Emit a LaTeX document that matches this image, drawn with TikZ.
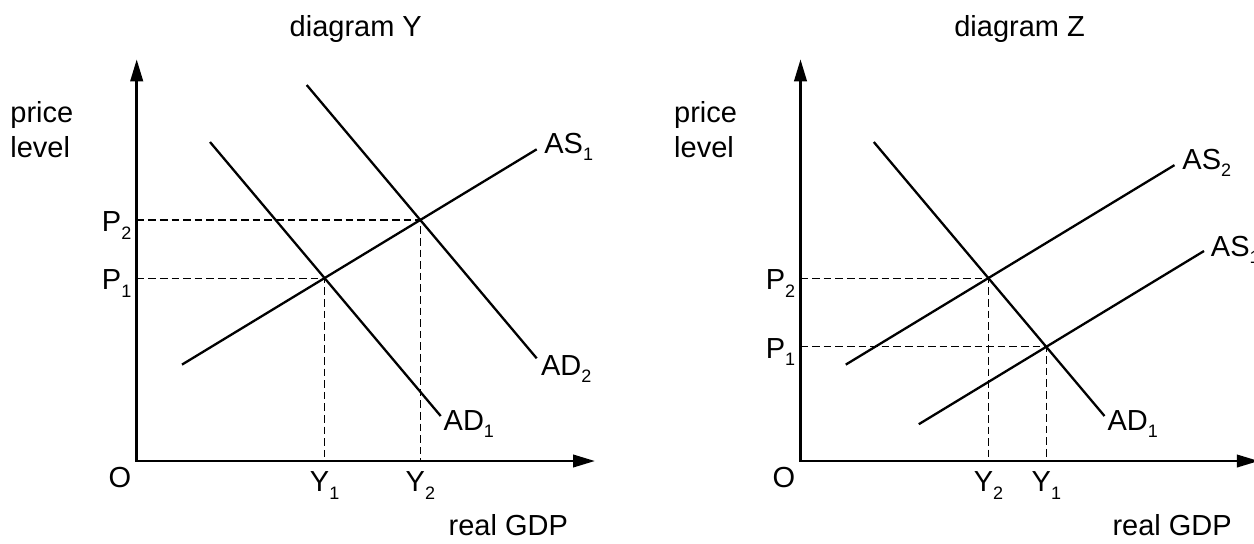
\documentclass[tikz,border=0pt]{standalone}
\usepackage{fontspec}
\setmainfont{Liberation Sans}
\usetikzlibrary{positioning,arrows.meta}
\newcommand\lowsub[1]{\raisebox{-3.7pt}{\fontsize{9pt}{9pt}\selectfont #1}}
\tikzset{
  lbl/.style={inner sep=0pt, font=\fontsize{14.5pt}{17.3pt}\selectfont},
  plbl/.style={lbl, anchor=base east, xshift=-2.5pt, yshift=-5.85pt},
  axis/.style={line width=1.35pt, {Triangle[length=11pt, width=6.2pt]}-{Triangle[length=11pt, width=6.2pt]}},
  curve/.style={line width=1.15pt},
  guide/.style={line width=0.55pt, dash pattern=on 3.8pt off 2pt},
}
\begin{document}
\begin{tikzpicture}[x=0.5pt, y=-0.5pt]
        \useasboundingbox (0,0) rectangle (1254,543);
        \clip (0,0) rectangle (1254,543);
        \coordinate (yb) at (0,491.7);
        \coordinate (oY) at (136.7,461);
        \coordinate (ytY) at (136.7,59.3);
        \coordinate (xtY) at (595,461);
        \coordinate (as1a) at (182,364.6);
        \coordinate (as1b) at (536.7,149.3);
        \coordinate (ad1a) at (210,142);
        \coordinate (ad1b) at (440.7,416);
        \coordinate (ad2a) at (306.7,85);
        \coordinate (ad2b) at (536.7,358.3);
        \coordinate (e1Y) at (intersection of as1a--as1b and ad1a--ad1b);
        \coordinate (e2Y) at (intersection of as1a--as1b and ad2a--ad2b);
        \node[lbl, anchor=base] (ttlY) at (355.8,36.7) {diagram Y};
        \node[lbl, anchor=west, align=left] (plY) at (10,129.6) {price\\level};
        \node[lbl, anchor=base] (o1) at (120,487.6) {O};
        \node[plbl] (p1Y) at (oY |- e1Y) {P\lowsub{1}};
        \node[plbl] (p2Y) at (oY |- e2Y) {P\lowsub{2}};
        \node[lbl, anchor=base] (y1Y) at (e1Y |- yb) {Y\lowsub{1}};
        \node[lbl, anchor=base] (y2Y) at (e2Y |- yb) {Y\lowsub{2}};
        \node[lbl, anchor=base west] (as1l) at (544,153.3) {AS\lowsub{1}};
        \node[lbl, anchor=base west] (ad2l) at (540.7,375) {AD\lowsub{2}};
        \node[lbl, anchor=base west] (ad1l) at (443.3,430.5) {AD\lowsub{1}};
        \node[lbl, anchor=base west] (gdpY) at (448.3,535) {real GDP};
        \draw[guide] (oY |- e1Y) -- (e1Y) -- (e1Y |- oY);
        \draw[guide] (oY |- e2Y) -- (e2Y) -- (e2Y |- oY);
        \draw[curve] (as1a) -- (as1b);
        \draw[curve] (ad1a) -- (ad1b);
        \draw[curve] (ad2a) -- (ad2b);
        \draw[axis] (ytY) -- (oY) -- (xtY);
        \coordinate (oZ) at (800.5,461);
        \coordinate (ytZ) at (800.5,59.3);
        \coordinate (xtZ) at (1258.8,461);
        \coordinate (zas2a) at (845.8,364.6);
        \coordinate (zas2b) at (1174.5,165.1);
        \coordinate (zas1a) at (918.8,424.2);
        \coordinate (zas1b) at (1204,251);
        \coordinate (zad1a) at (873.8,142);
        \coordinate (zad1b) at (1104.5,416);
        \coordinate (e1Z) at (intersection of zas1a--zas1b and zad1a--zad1b);
        \coordinate (e2Z) at (intersection of zas2a--zas2b and zad1a--zad1b);
        \node[lbl, anchor=base] (ttlZ) at (1019.6,36.7) {diagram Z};
        \node[lbl, anchor=west, align=left] (plZ) at (673.8,129.6) {price\\level};
        \node[lbl, anchor=base] (o2) at (783.8,487.6) {O};
        \node[plbl] (p1Z) at (oZ |- e1Z) {P\lowsub{1}};
        \node[plbl] (p2Z) at (oZ |- e2Z) {P\lowsub{2}};
        \node[lbl, anchor=base] (y1Z) at (e1Z |- yb) {Y\lowsub{1}};
        \node[lbl, anchor=base] (y2Z) at (e2Z |- yb) {Y\lowsub{2}};
        \node[lbl, anchor=base west] (zas2l) at (1182,169.3) {AS\lowsub{2}};
        \node[lbl, anchor=base west] (zas1l) at (1210.5,256.5) {AS\lowsub{1}};
        \node[lbl, anchor=base west] (zad1l) at (1107.1,430.5) {AD\lowsub{1}};
        \node[lbl, anchor=base west] (gdpZ) at (1112.1,535) {real GDP};
        \draw[guide] (oZ |- e1Z) -- (e1Z) -- (e1Z |- oZ);
        \draw[guide] (oZ |- e2Z) -- (e2Z) -- (e2Z |- oZ);
        \draw[curve] (zas2a) -- (zas2b);
        \draw[curve] (zas1a) -- (zas1b);
        \draw[curve] (zad1a) -- (zad1b);
        \draw[axis] (ytZ) -- (oZ) -- (xtZ);
      \end{tikzpicture}
\end{document}
